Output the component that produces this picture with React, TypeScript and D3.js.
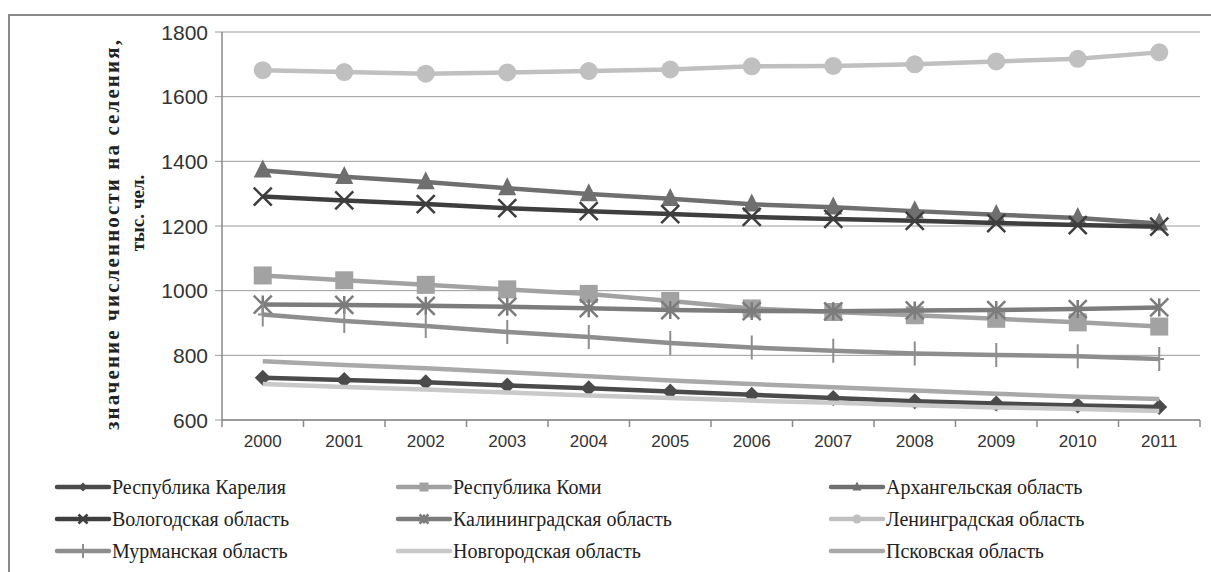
import * as d3 from 'd3'

const years = ['2000', '2001', '2002', '2003', '2004', '2005', '2006', '2007', '2008', '2009', '2010', '2011']
const yTicks = [600, 800, 1000, 1200, 1400, 1600, 1800]

const karelia = [731, 724, 717, 707, 698, 688, 678, 668, 658, 651, 645, 640]
const komi = [1047, 1032, 1018, 1004, 990, 968, 945, 934, 924, 913, 902, 889]
const arkhangelsk = [1372, 1352, 1336, 1317, 1299, 1284, 1267, 1258, 1246, 1235, 1225, 1208]
const vologda = [1291, 1279, 1268, 1255, 1246, 1237, 1228, 1222, 1216, 1209, 1203, 1198]
const kaliningrad = [957, 956, 953, 950, 946, 940, 937, 936, 939, 940, 943, 948]
const leningrad = [1682, 1676, 1671, 1675, 1679, 1684, 1694, 1695, 1700, 1709, 1717, 1737]
const murmansk = [926, 906, 891, 872, 857, 838, 824, 814, 806, 801, 797, 789]
const novgorod = [711, 702, 694, 685, 676, 668, 660, 653, 646, 639, 634, 628]
const pskov = [782, 770, 760, 748, 735, 722, 711, 701, 691, 681, 672, 665]

type Marker = 'diamond' | 'square' | 'triangle' | 'x' | 'asterisk' | 'circle' | 'plus' | 'none'
type Series = { name: string; values: number[]; color: string; marker: Marker }

const series: Series[] = [
  { name: 'Республика Карелия', values: karelia, color: '#4b4b4b', marker: 'diamond' },
  { name: 'Республика Коми', values: komi, color: '#a2a2a2', marker: 'square' },
  { name: 'Архангельская область', values: arkhangelsk, color: '#6f6f6f', marker: 'triangle' },
  { name: 'Вологодская область', values: vologda, color: '#3e3e3e', marker: 'x' },
  { name: 'Калининградская область', values: kaliningrad, color: '#7c7c7c', marker: 'asterisk' },
  { name: 'Ленинградская область', values: leningrad, color: '#c0c0c0', marker: 'circle' },
  { name: 'Мурманская область', values: murmansk, color: '#8e8e8e', marker: 'plus' },
  { name: 'Новгородская область', values: novgorod, color: '#c9c9c9', marker: 'none' },
  { name: 'Псковская область', values: pskov, color: '#a9a9a9', marker: 'none' },
]

function MarkerShape({ kind, color, s }: { kind: Marker; color: string; s: number }) {
  const h = s / 2
  switch (kind) {
    case 'diamond':
      return <path d={`M0,${-h}L${h},0L0,${h}L${-h},0Z`} fill={color} />
    case 'square':
      return <rect x={-h} y={-h} width={s} height={s} fill={color} />
    case 'triangle':
      return <path d={`M0,${-h * 1.2}L${h},${h * 0.8}L${-h},${h * 0.8}Z`} fill={color} />
    case 'circle':
      return <circle r={h} fill={color} />
    case 'x':
      return (
        <path d={`M${-h},${-h}L${h},${h}M${h},${-h}L${-h},${h}`} stroke={color} strokeWidth={2.5} fill="none" />
      )
    case 'asterisk':
      return (
        <path
          d={`M${-h},${-h}L${h},${h}M${h},${-h}L${-h},${h}M0,${-h}L0,${h}`}
          stroke={color}
          strokeWidth={2.5}
          fill="none"
        />
      )
    case 'plus':
      return <path d={`M0,${-h}L0,${h}M${-h * 0.4},0L${h * 0.4},0`} stroke={color} strokeWidth={2} fill="none" />
    default:
      return null
  }
}

const markerSize: Record<Marker, number> = {
  diamond: 16,
  square: 18,
  triangle: 18,
  x: 18,
  asterisk: 18,
  circle: 18,
  plus: 24,
  none: 0,
}

export default function App() {
  const width = 1211
  const height = 572
  const left = 222
  const right = 1200
  const top = 32
  const bottom = 420

  const x = d3.scaleBand<string>().domain(years).range([left, right])
  const y = d3.scaleLinear().domain([600, 1800]).range([bottom, top])
  const line = d3
    .line<number>()
    .x((_, i) => x(years[i])! + x.bandwidth() / 2)
    .y((d) => y(d))

  const legendCols = [57, 398, 831]
  const legendRows = [487, 519, 551]

  const serif = '"Liberation Serif"'
  const sans = '"Liberation Sans"'

  return (
    <svg width={width} height={height} style={{ position: 'absolute', left: 0, top: 0, background: '#fff' }}>
      <rect x={0} y={0} width={width} height={height} fill="#fff" />
      <rect x={9} y={15} width={width} height={height} fill="none" stroke="#8a8a8a" strokeWidth={2} />

      {/* gridlines */}
      {yTicks.map((t) => (
        <g key={t}>
          <line x1={left - 7} x2={right} y1={y(t)} y2={y(t)} stroke="#9a9a9a" strokeWidth={1} />
          <text
            x={left - 14}
            y={y(t)}
            textAnchor="end"
            dominantBaseline="central"
            fontFamily={sans}
            fontSize={21}
            fill="#333"
          >
            {t}
          </text>
        </g>
      ))}

      {/* axes */}
      <line x1={left} x2={left} y1={top} y2={bottom} stroke="#8a8a8a" strokeWidth={1.5} />
      <line x1={left} x2={right} y1={bottom} y2={bottom} stroke="#8a8a8a" strokeWidth={1.5} />
      {years.map((yr) => (
        <line key={'t' + yr} x1={x(yr)!} x2={x(yr)!} y1={bottom} y2={bottom + 7} stroke="#8a8a8a" strokeWidth={1.5} />
      ))}
      <line x1={right} x2={right} y1={bottom} y2={bottom + 7} stroke="#8a8a8a" strokeWidth={1.5} />
      {years.map((yr) => (
        <text
          key={'l' + yr}
          x={x(yr)! + x.bandwidth() / 2}
          y={bottom + 27}
          textAnchor="middle"
          fontFamily={sans}
          fontSize={17}
          fill="#333"
        >
          {yr}
        </text>
      ))}

      {/* y title */}
      <text
        transform={`translate(119,235) rotate(-90)`}
        textAnchor="middle"
        fontFamily={serif}
        fontWeight="bold"
        fontSize={21}
        textLength={390}
        lengthAdjust="spacing"
        fill="#222"
      >
        значение численности на селения,
      </text>
      <text
        transform={`translate(144,213) rotate(-90)`}
        textAnchor="middle"
        fontFamily={serif}
        fontWeight="bold"
        fontSize={19}
        fill="#222"
      >
        тыс. чел.
      </text>

      {/* series */}
      {series.map((s) => (
        <g key={s.name}>
          <path d={line(s.values)!} fill="none" stroke={s.color} strokeWidth={4.5} strokeLinejoin="round" />
          {s.values.map((v, i) => (
            <g key={i} transform={`translate(${x(years[i])! + x.bandwidth() / 2},${y(v)})`}>
              <MarkerShape kind={s.marker} color={s.color} s={markerSize[s.marker]} />
            </g>
          ))}
        </g>
      ))}

      {/* legend */}
      {series.map((s, i) => {
        const lx = legendCols[i % 3]
        const ly = legendRows[Math.floor(i / 3)]
        return (
          <g key={'lg' + s.name} transform={`translate(${lx},${ly})`}>
            <line x1={0} x2={52} y1={0} y2={0} stroke={s.color} strokeWidth={4.5} strokeLinecap="round" />
            <g transform="translate(26,0)">
              <MarkerShape kind={s.marker} color={s.color} s={s.marker === 'plus' ? 14 : 9} />
            </g>
            <text x={55} y={0} dominantBaseline="central" fontFamily={serif} fontSize={20} fill="#222">
              {s.name}
            </text>
          </g>
        )
      })}
    </svg>
  )
}
